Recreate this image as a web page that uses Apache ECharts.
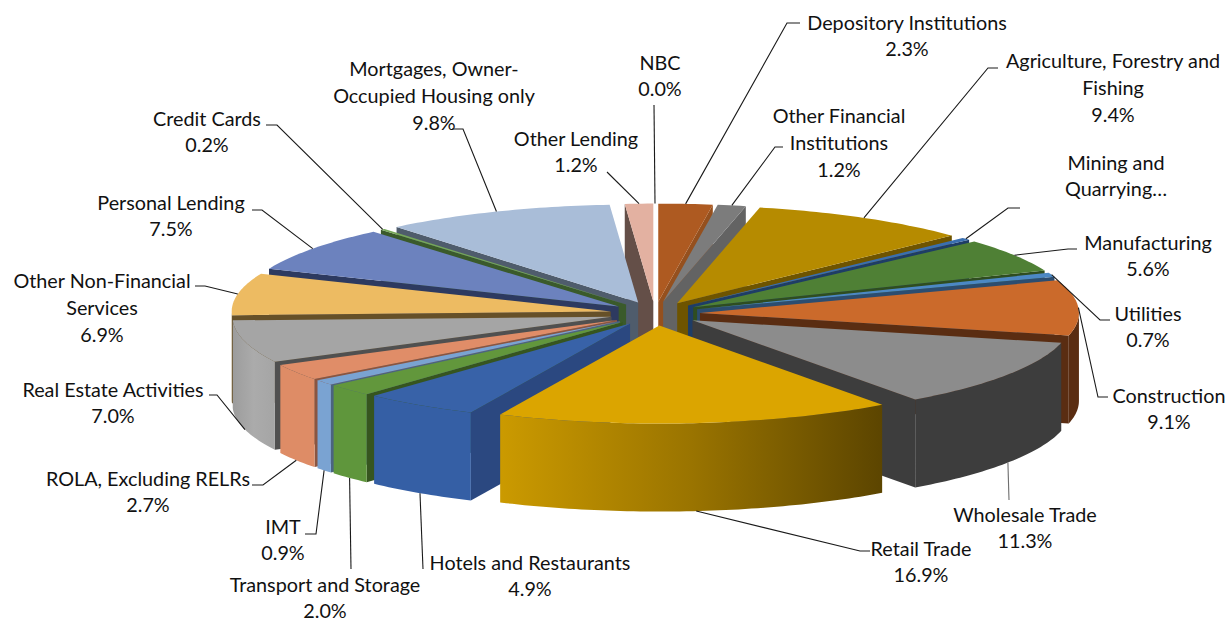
<!DOCTYPE html>
<html><head><meta charset="utf-8">
<style>html,body{margin:0;padding:0;background:#fff}#c{width:1228px;height:623px}svg text{font-variant-ligatures:none;font-feature-settings:"liga" 0,"clig" 0,"dlig" 0}</style>
<script src="https://cdn.jsdelivr.net/npm/echarts@6/dist/echarts.min.js"></script>
</head><body><div id="c"></div>
<script>
// ---- data (clockwise from 12 o'clock) ----
const categories = ['Depository Institutions','Other Financial\nInstitutions','Agriculture, Forestry and\nFishing','Mining and\nQuarrying…','Manufacturing','Utilities','Construction','Wholesale Trade','Retail Trade','Hotels and Restaurants','Transport and Storage','IMT','ROLA, Excluding RELRs','Real Estate Activities','Other Non-Financial\nServices','Personal Lending','Credit Cards','Mortgages, Owner-\nOccupied Housing only','Other Lending','NBC'];
const shares = [2.3,1.2,9.4,0.4,5.6,0.7,9.1,11.3,16.9,4.9,2.0,0.9,2.7,7.0,6.9,7.5,0.2,9.8,1.2,0.0];
const hiddenValueLabels = ['Mining and\nQuarrying…'];

// ---- styling ----
const topColors = ['#AE5A21','#7C7C7C','#B68B00','#3A6FB0','#4F8035','#4C88C4','#CB6A2B','#8C8C8C','#DBA500','#3862A8','#62973C','#7AA3D2','#E08D68','#A5A5A5','#EDBB62','#6C82BE','#76A859','#A9BDD8','#E3B1A1','#5B9BD5'];
const cutColors = ['#95501E','#636363','#6E5400','#1E3D66','#2F4D20','#2C4D70','#5A2D12','#3D3D3D','#8D6B00','#2B4880','#36551F','#4B6480','#8A5540','#505050','#665028','#2D3A60','#3A5A2B','#4F5C6C','#644F48','#2C4D70'];
const wallColors = ['#95501E','#636363','#6E5400','#1E3D66','#2F4D20','#2C4D70','#5A2D12','#3D3D3D',['#CB9A00','#9A7400','#5C4500'],'#355FA5','#5F963C','#7AA3D2','#DE8C66',['#9C9C9C','#ABABAB','#A5A5A5'],'#8A6A30','#2D3A60','#3A5A2B','#4F5C6C','#644F48','#2C4D70'];

// label centre [x, y] and leader elbow points
const labelCentres = [[907,35],[839,142],[1113,87],[1116,175],[1148,255],[1148,326],[1169,408],[1025,527],[921,561],[530,575],[325,597],[283,539],[148,491],[113,402],[102,307],[171,215],[207,131],[434,95],[576,151],[660,75]];
const leaderElbows = [[[787,23],[800,23]],[[775,147],[783,147]],[[988,68],[998,68]],[[1008,208],[1020,208]],[[1068,249],[1077,249]],[[1100,320],[1110,320]],[[1098,397],[1108,397]],[[1009,500]],[[860,551],[870,551]],[[423,569]],[[351,569]],[[316,534],[305,534]],[[263,485],[252,485]],[[217,395],[209,395]],[[205,286],[195,286]],[[262,210],[252,210]],[[277,125],[266,125]],[[463,129],[452,129]],[[607,172]],[[654,105]]];

// pie geometry (orthographic tilted disc)
const cx = 655, cy = 313.6, rx = 379, ry = 98, ex = 45, ey = 12, wall = 88;
const LABEL_FONT = '19.8px Lato, Carlito, sans-serif';

const total = shares.reduce((a,b)=>a+b,0);
let acc = 0;
const rows = shares.map((v,i)=>{const start=acc; acc+=v; return [i,v,start];});
const rad = d=>d*Math.PI/180;

function renderItem(params, api){
  const i = api.value(0), v = api.value(1), s = api.value(2);
  const a0 = s/total*360, a1 = (s+v)/total*360, mid = (a0+a1)/2;
  const ox = cx + ex*Math.sin(rad(mid)), oy = cy - ey*Math.cos(rad(mid));
  const P = (a,h=0)=>[ox+rx*Math.sin(rad(a)), oy-ry*Math.cos(rad(a))+h];
  const z = Math.round(500-480*Math.cos(rad(mid)));
  const children = [];
  const poly = (points,fill)=>children.push({type:'polygon',z2:z,shape:{points},style:{fill}});
  if (v>0){
    if (Math.sin(rad(a0))<0) poly([[ox,oy],P(a0),P(a0,wall),[ox,oy+wall]],cutColors[i]);
    if (Math.sin(rad(a1))>0) poly([[ox,oy],P(a1),P(a1,wall),[ox,oy+wall]],cutColors[i]);
    const w0 = Math.max(a0,90), w1 = Math.min(a1,270);
    if (w1>w0){
      const up=[],down=[];
      const n = Math.max(2,Math.ceil(w1-w0));
      for(let k=0;k<=n;k++){const a=w0+(w1-w0)*k/n; up.push(P(a)); down.unshift(P(a,wall));}
      const c = wallColors[i];
      const fill = Array.isArray(c) ? {type:'linear',x:0,y:0,x2:1,y2:0,colorStops:c.map((col,j)=>({offset:j/(c.length-1),color:col}))} : c;
      poly(up.concat(down),fill);
    }
    const pts=[[ox,oy]];
    const n = Math.max(2,Math.ceil(a1-a0));
    for(let k=0;k<=n;k++) pts.push(P(a0+(a1-a0)*k/n));
    poly(pts,topColors[i]);
  }
  const front = Math.cos(rad(mid))<0;
  const start = P(mid, front?wall:0);
  children.push({type:'polyline',z2:1500,shape:{points:[start].concat(leaderElbows[i])},style:{stroke:i===7?'#6E6E6E':'#1A1A1A',lineWidth:1.1,fill:null}});
  const name = categories[i];
  const text = hiddenValueLabels.includes(name) ? name : name+'\n'+v.toFixed(1)+'%';
  children.push({type:'text',z2:2000,style:{text,x:labelCentres[i][0],y:labelCentres[i][1],align:'center',verticalAlign:'middle',font:LABEL_FONT,lineHeight:26.6,fill:'#111111'}});
  return {type:'group',children};
}

const chart = echarts.init(document.getElementById('c'),null,{renderer:'svg'});
chart.setOption({
  animation:false,
  backgroundColor:'#fff',
  series:[{type:'custom',coordinateSystem:'none',renderItem,data:rows,silent:true,clip:false}]
});
</script></body></html>
